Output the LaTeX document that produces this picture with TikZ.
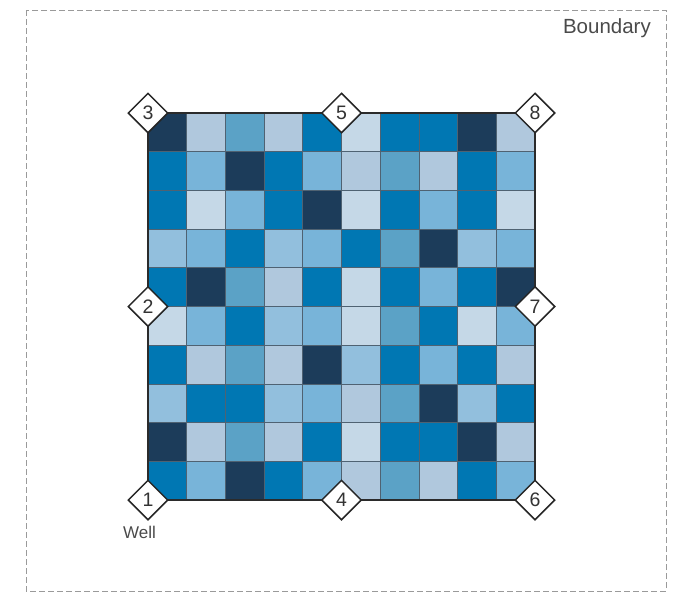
\documentclass[tikz,border=0pt]{standalone}
\usepackage{fontspec}
\setmainfont{Liberation Sans}
\usetikzlibrary{shapes.geometric}
\definecolor{cD}{HTML}{1C3C5A}
\definecolor{cB}{HTML}{0077B3}
\definecolor{cM}{HTML}{5BA2C6}
\definecolor{cL}{HTML}{78B4D9}
\definecolor{cS}{HTML}{92BFDD}
\definecolor{cP}{HTML}{B0C8DD}
\definecolor{cV}{HTML}{C5D8E7}
\definecolor{cellline}{HTML}{4F6272}
\definecolor{outline}{HTML}{2B2B2B}
\definecolor{bndgray}{HTML}{9A9A9A}
\definecolor{txtgray}{HTML}{4A4A4A}
\begin{document}
\begin{tikzpicture}[x=1pt,y=-1pt,
  bnd/.style={draw=bndgray, line width=1pt, dash pattern=on 6pt off 3pt},
  bndlabel/.style={text=txtgray, font=\fontsize{20.5}{20.5}\selectfont, inner sep=0pt},
  welllabel/.style={text=txtgray, font=\fontsize{17}{17}\selectfont, inner sep=0pt},
  cellbox/.style={draw=cellline, line width=0.8pt},
  gridline/.style={draw=outline, line width=1.8pt},
  mk/.style={diamond, draw=black!85, line width=1.5pt, fill=white, minimum width=40pt, minimum height=40pt, inner sep=0pt, text=black!80, font=\fontsize{19.5}{19.5}\selectfont}]
\useasboundingbox (0,0) rectangle (679,592);
\draw[bnd] (26,10) rectangle (666,591);
\node[bndlabel, anchor=base east] (bl) at (651,33) {Boundary};
\foreach \row [count=\r from 0] in {
  {D,P,M,P,B,V,B,B,D,P},
  {B,L,D,B,L,P,M,P,B,L},
  {B,V,L,B,D,V,B,L,B,V},
  {S,L,B,S,L,B,M,D,S,L},
  {B,D,M,P,B,V,B,L,B,D},
  {V,L,B,S,L,V,M,B,V,L},
  {B,P,M,P,D,S,B,L,B,P},
  {S,B,B,S,L,P,M,D,S,B},
  {D,P,M,P,B,V,B,B,D,P},
  {B,L,D,B,L,P,M,P,B,L}} {
  \foreach \c [count=\k from 0] in \row {
    \filldraw[cellbox, fill=c\c] ({148+\k*38.7},{113+\r*38.7}) rectangle ++(38.7,38.7);
  }
}
\draw[gridline] (148,113) rectangle (535,500);
\node[mk] (m3) at (148,113) {3};
\node[mk] (m5) at (341.5,113) {5};
\node[mk] (m8) at (535,113) {8};
\node[mk] (m2) at (148,306.5) {2};
\node[mk] (m7) at (535,306.5) {7};
\node[mk] (m1) at (148,500) {1};
\node[mk] (m4) at (341.5,500) {4};
\node[mk] (m6) at (535,500) {6};
\node[welllabel, anchor=base west] (well) at (123,538) {Well};
\end{tikzpicture}
\end{document}
